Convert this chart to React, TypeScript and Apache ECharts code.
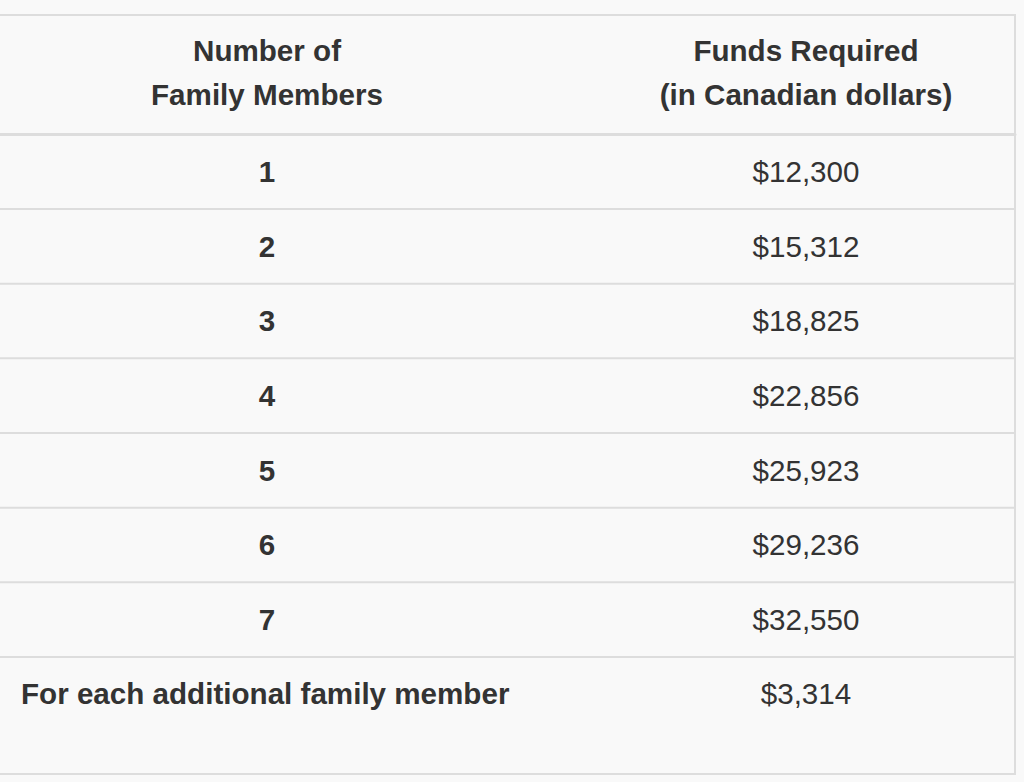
import React, { useEffect, useRef } from "react";
import * as echarts from "echarts";

const columnHeaders = ["Number of\nFamily Members", "Funds Required\n(in Canadian dollars)"];
const memberLabels = ["1", "2", "3", "4", "5", "6", "7", "For each additional family member"];
const fundsRequired = [12300, 15312, 18825, 22856, 25923, 29236, 32550, 3314];

const FONT = '"Liberation Sans", Arial, Helvetica, sans-serif';
const TEXT = "#333333";
const BORDER = "#dddddd";
const FS = 29.6;

export default function App() {
  const ref = useRef<HTMLDivElement>(null);

  useEffect(() => {
    const chart = echarts.init(ref.current!, null, { renderer: "svg" });
    const fmt = (v: number) => "$" + v.toLocaleString("en-US");
    const lastRow = memberLabels.length - 1;

    const renderItem = (params: any, api: any) => {
      const row = params.dataIndex;
      const cs = params.coordSys;
      const c0 = api.coord([0, row]);
      const c1 = api.coord([1, row]);
      const bandH = api.size([0, 1])[1];
      const children: any[] = [];
      const isLast = row === lastRow;
      if (row === 0) {
        [c0[0], c1[0]].forEach((hx, k) => {
          children.push({
            type: "text",
            style: {
              text: columnHeaders[k],
              x: hx,
              y: cs.y - 62,
              align: "center",
              verticalAlign: "middle",
              fontFamily: FONT,
              fontWeight: "bold",
              fontSize: FS,
              lineHeight: 44,
              fill: TEXT,
            },
          });
        });
      }
      children.push({
        type: "text",
        style: {
          text: memberLabels[row],
          x: isLast ? cs.x + 21 : c0[0],
          y: c0[1] - (isLast ? 1 : 0),
          align: isLast ? "left" : "center",
          verticalAlign: "middle",
          fontFamily: FONT,
          fontWeight: "bold",
          fontSize: FS,
          fill: TEXT,
        },
      });
      children.push({
        type: "text",
        style: {
          text: fmt(fundsRequired[row]),
          x: c1[0],
          y: c1[1] - (isLast ? 1 : 0),
          align: "center",
          verticalAlign: "middle",
          fontFamily: FONT,
          fontWeight: "normal",
          fontSize: FS,
          fill: TEXT,
        },
      });
      if (!isLast) {
        const ly = c0[1] + bandH / 2;
        children.push({
          type: "line",
          shape: { x1: cs.x, y1: ly, x2: cs.x + cs.width, y2: ly },
          style: { stroke: BORDER, lineWidth: 2 },
        });
      }
      return { type: "group", children };
    };

    chart.setOption({
      animation: false,
      backgroundColor: "#f9f9f9",
      grid: { left: 0, right: 9, top: 134.33, height: 597.33 },
      xAxis: {
        type: "value",
        min: -267 / 539,
        max: 748 / 539,
        position: "top",
        axisLine: { show: true, onZero: false, lineStyle: { color: BORDER, width: 3 } },
        axisTick: { show: false },
        splitLine: { show: false },
        axisLabel: { show: false },
      },
      yAxis: {
        type: "category",
        data: memberLabels,
        inverse: true,
        show: false,
      },
      graphic: [
        {
          type: "rect",
          silent: true,
          z: 10,
          shape: { x: -20, y: 15, width: 1035, height: 759 },
          style: { fill: "none", stroke: BORDER, lineWidth: 2 },
        },
      ],
      series: [
        {
          type: "custom",
          renderItem,
          encode: { x: 0, y: 1 },
          data: memberLabels.map((_, i) => [0, i]),
        },
      ],
    });

    return () => chart.dispose();
  }, []);

  return (
    <div
      ref={ref}
      style={{ position: "fixed", left: 0, top: 0, width: 1024, height: 782 }}
    />
  );
}
